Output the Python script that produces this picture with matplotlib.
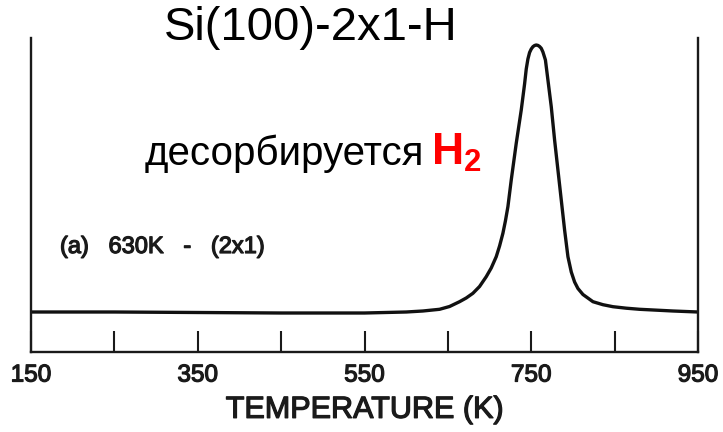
import matplotlib
matplotlib.use("Agg")
import matplotlib.pyplot as plt
import matplotlib.patheffects as pe

plt.rcParams['font.family'] = ['Liberation Sans', 'DejaVu Sans']
plt.rcParams['mathtext.fontset'] = 'custom'
plt.rcParams['mathtext.rm'] = 'Liberation Sans'
plt.rcParams['mathtext.bf'] = 'Liberation Sans:bold'

# TPD trace (temperature in K, signal in arbitrary units)
temperature = [150, 250, 350, 450, 500, 550, 600, 620, 640, 652, 664, 672, 680,
               688, 696, 702, 708, 712, 716, 719, 722, 726, 732, 738, 742, 744,
               746, 748, 750, 752, 754, 756, 758, 760, 762, 764, 767, 770, 774,
               778, 782, 786, 790, 794, 798, 802, 806, 812, 824, 836, 848, 864,
               880, 920, 950]
signal = [40, 40, 39.5, 39, 39, 39, 40, 41, 42.7, 45.5, 50.3, 54, 58.7,
          65.5, 75.3, 84, 95.3, 106, 118.7, 131, 145.3, 172, 208.7, 242, 268, 283,
          293, 299.5, 303, 305.3, 306.5, 307, 306.6, 305.5, 303.7, 300, 292, 272, 245.3,
          212, 182, 152, 122, 95.3, 80, 70, 63.5, 57.5, 50.3, 47.3, 45.3, 43.8,
          42.7, 41, 40]

major_ticks = [150, 350, 550, 750, 950]
minor_ticks = [250, 450, 650, 850]

ink = "#1a1a1a"
thick = [pe.withStroke(linewidth=0.9, foreground=ink)]

fig = plt.figure(figsize=(7.23, 4.32), dpi=100)
ax = fig.add_axes([31 / 723, 80 / 432, 667 / 723, 314 / 432])

ax.plot(temperature, signal, color="#111111", lw=2.4, solid_joinstyle="round")

ax.set_xlim(150, 950)
ax.set_ylim(0, 314)
ax.spines['top'].set_visible(False)
for s in ['left', 'right', 'bottom']:
    ax.spines[s].set_linewidth(1.7)
    ax.spines[s].set_color(ink)

ax.set_xticks(major_ticks)
ax.set_xticks(minor_ticks, minor=True)
ax.tick_params(axis='x', which='both', direction='in', length=15, width=1.5,
               color=ink, labelsize=17.5, pad=9, labelcolor=ink)
for lbl in ax.get_xticklabels():
    lbl.set_path_effects(thick)
ax.set_yticks([])
xl = ax.set_xlabel("TEMPERATURE (K)", fontsize=22, color=ink, labelpad=6)
xl.set_path_effects(thick)

fig.text(60 / 723, 1 - 247 / 432, "(a)   630K   -   (2x1)", fontsize=17,
         color=ink, va='center', ha='left', path_effects=thick)

fig.text(311 / 723, 1 - 28 / 432, "Si(100)-2x1-H", fontsize=34, ha='center',
         va='center', color='black')
fig.text(145 / 723, 1 - 165 / 432, "десорбируется", fontsize=29, ha='left',
         va='baseline', color='black')
fig.text(431 / 723, 1 - 165 / 432, r"$\mathbf{H_2}$", fontsize=32, ha='left',
         va='baseline', color='#ff0000')

fig.savefig("out.png", dpi=100)
